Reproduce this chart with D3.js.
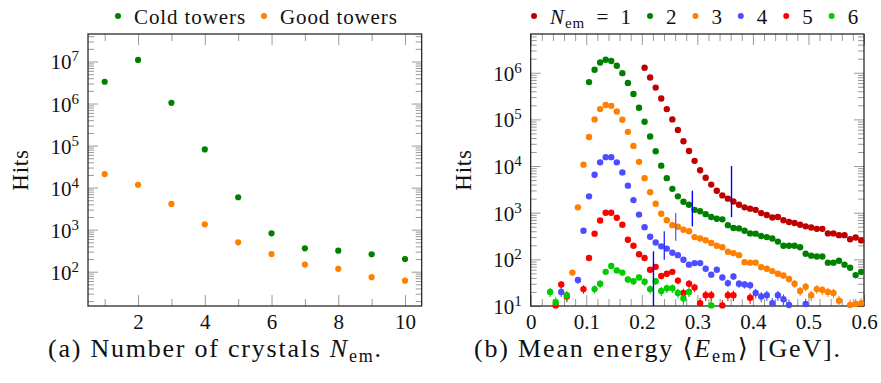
<!DOCTYPE html>
<html>
<head>
<meta charset="utf-8">
<script src="https://cdn.jsdelivr.net/npm/d3@7"></script>
<style>
  body { margin: 0; background: #fff; }
</style>
</head>
<body>
<svg id="chart" width="881" height="383" font-family="Liberation Serif, DejaVu Serif, serif"></svg>
<script>
// (a) hits vs number of crystals
const crystalCounts = [1, 2, 3, 4, 5, 6, 7, 8, 9, 10];
const coldTowers = [3.3e6, 1.09e7, 1.04e6, 8.1e4, 5900, 820, 360, 316, 260, 200];
const goodTowers = [2.1e4, 1.17e4, 4100, 1340, 500, 263, 148, 117, 74, 61];
const crystalTickLabels = [2, 4, 6, 8, 10];

// (b) hits vs mean energy [GeV], one array per N_em
const energyBins = [0.035, 0.045, 0.055, 0.065, 0.075, 0.085, 0.095, 0.105, 0.115, 0.125,
  0.135, 0.145, 0.155, 0.165, 0.175, 0.185, 0.195, 0.205, 0.215, 0.225,
  0.235, 0.245, 0.255, 0.265, 0.275, 0.285, 0.295, 0.305, 0.315, 0.325,
  0.335, 0.345, 0.355, 0.365, 0.375, 0.385, 0.395, 0.405, 0.415, 0.425,
  0.435, 0.445, 0.455, 0.465, 0.475, 0.485, 0.495, 0.505, 0.515, 0.525,
  0.535, 0.545, 0.555, 0.565, 0.575, 0.585, 0.595];
const hitsNem1 = [null, null, null, null, null, null, null, null, null, null,
  null, null, null, null, null, null, null, 1.28e6, 7.9e5, 4.8e5,
  2.8e5, 1.66e5, 1.0e5, 5.9e4, 3.4e4, 2.1e4, 1.29e4, 8100, 5600, 4000,
  2950, 2350, 2000, 1740, 1480, 1300, 1220, 1150, 980, 890,
  790, 810, 690, 630, 600, 550, 510, 480, 450, 450,
  360, 360, 330, 330, 270, 295, 255];
const hitsNem2 = [null, null, null, null, null, null, null, 6.3e5, 1.16e6, 1.66e6,
  1.9e6, 1.78e6, 1.41e6, 9.8e5, 6.0e5, 3.5e5, 1.78e5, 8.9e4, 4.3e4, 2.07e4,
  1.02e4, 5500, 3240, 2240, 1720, 1480, 1150, 1070, 930, 810,
  740, 720, 540, 470, 460, 410, 360, 355, 316, 300,
  280, 240, 195, 195, 195, 182, 132, 120, 115, 115,
  85, 85, 93, 77, 66, 46, 54];
const hitsNem3 = [null, null, null, null, 52, 1300, 1.07e4, 4.2e4, 1.0e5, 1.66e5,
  2.04e5, 1.95e5, 1.48e5, 9.8e4, 5.4e4, 2.7e4, 1.23e4, 5500, 2750, 1550,
  950, 690, 540, 500, 430, 400, 300, 280, 257, 224,
  195, 182, 145, 135, 123, 87, 85, 85, 68, 63,
  56, 49, 45, 38, 30, 21, 26, 17, 23, 22,
  20, 19, 13, null, 10.5, 11, 11.5];
const hitsNem4 = [null, null, 20, null, null, 36, 410, 2240, 6500, 1.2e4,
  1.55e4, 1.55e4, 1.2e4, 7300, 3800, 1860, 910, 490, 305, 230,
  190, 170, 138, 123, 98, 77, 83, 83, 63, 47,
  60, 41, 31, 43, 30, 29, 28, 19, 16, 17,
  11.5, 17, 14, 10.5, null, null, 11, null, null, null,
  null, null, null, null, null, null, null];
const hitsNem5 = [null, 10.3, 29, 16, null, null, 23, 107, 355, 680,
  1000, 1000, 780, 550, 263, 195, 129, 107, 60, 69,
  44, 49, 54, 35, 19, 30, 25, 11.5, 17, 17,
  null, 10.3, 17, 17, null, null, 15, null, null, null,
  null, null, null, null, null, null, null, null, null, null,
  null, null, null, null, null, null, null];
const hitsNem6 = [20, 12, null, 17, null, null, null, null, 23, 30,
  54, 72, 58, 52, 37, 34, 41, 33, 23, 34,
  21, 24, 24, 19, 14.5, 20, null, null, null, 10.3,
  null, null, null, null, null, null, null, null, null, null,
  null, null, null, null, null, null, null, null, null, null,
  null, null, null, null, null, null, null];
const nemLabels = ["1", "2", "3", "4", "5", "6"];
const nemColors = ["#bf0000", "#008000", "#ff8000", "#4d4dff", "#ff0000", "#00cc00"];

// blue vertical markers in (b)
const markerEnergy = [0.221, 0.2405, 0.261, 0.291, 0.3615];
const markerLow = [10, 98, 250, 510, 800];
const markerHigh = [148, 400, 980, 2950, 10000];
const markerColors = ["#0000ff", "#3333ff", "#6666ff", "#0000ff", "#0000ff"];

const energyTickLabels = [0, 0.1, 0.2, 0.3, 0.4, 0.5, 0.6];

const SERIF = "'Liberation Serif', 'DejaVu Serif', 'Times New Roman', serif";
const svg = d3.select("#chart");
const FS = 21;
const tickColor = "#9a9a9a";

const plotTop = 34, plotBottom = 306;
const panelA = { left: 88, right: 421.7 };
const panelB = { left: 530.7, right: 864 };

const xA = d3.scaleLinear().domain([0.5, 10.5]).range([panelA.left, panelA.right]);
const yA = d3.scaleLog().domain([Math.pow(10, 1.184), Math.pow(10, 7.654)]).range([plotBottom, plotTop]);
const xB = d3.scaleLinear().domain([0, 0.6]).range([panelB.left, panelB.right]);
const yB = d3.scaleLog().domain([10, Math.pow(10, 6.83)]).range([plotBottom, plotTop]);

function logTicks(scale) {
  const [lo, hi] = scale.domain();
  const major = [], minor = [];
  for (let k = Math.floor(Math.log10(lo)); k <= Math.ceil(Math.log10(hi)); k++) {
    for (let m = 1; m <= 9; m++) {
      const v = m * Math.pow(10, k);
      if (v < lo * 0.999 || v > hi * 1.001) continue;
      (m === 1 ? major : minor).push(v);
    }
  }
  return { major, minor };
}

function tickAxis(g, axis) {
  g.call(axis).attr("color", tickColor);
  g.select(".domain").remove();
  g.selectAll("text").remove();
  g.selectAll("line").attr("stroke-width", 1);
}

function drawFrame(x, y, xMajor, xMinor) {
  const lt = logTicks(y);
  const [x0, x1] = x.range();
  [[xMajor, 11], [xMinor, 7]].forEach(([vals, len]) => {
    tickAxis(svg.append("g").attr("transform", `translate(0,${plotBottom})`),
      d3.axisBottom(x).tickValues(vals).tickSize(-len));
    tickAxis(svg.append("g").attr("transform", `translate(0,${plotTop})`),
      d3.axisTop(x).tickValues(vals).tickSize(-len));
  });
  [[lt.major, 10], [lt.minor, 6]].forEach(([vals, len]) => {
    tickAxis(svg.append("g").attr("transform", `translate(${x0},0)`),
      d3.axisLeft(y).tickValues(vals).tickSize(-len));
    tickAxis(svg.append("g").attr("transform", `translate(${x1},0)`),
      d3.axisRight(y).tickValues(vals).tickSize(-len));
  });

  // y labels 10^k
  const yl = svg.append("g").attr("transform", `translate(${x0 - 9},0)`)
    .call(d3.axisLeft(y).tickValues(lt.major).tickSize(0).tickFormat(""));
  yl.select(".domain").remove();
  yl.selectAll(".tick text").remove();
  yl.selectAll(".tick").append("text")
    .attr("text-anchor", "end")
    .attr("y", 7.5)
    .style("font-size", FS + "px")
    .each(function(d) {
      const t = d3.select(this);
      t.append("tspan").text("10");
      t.append("tspan").attr("dy", -8).style("font-size", "15px").text(Math.round(Math.log10(d)));
    });

  svg.append("text")
    .attr("transform", `translate(${x0 - 60},${(plotTop + plotBottom) / 2}) rotate(-90)`)
    .attr("text-anchor", "middle")
    .style("font-size", "23px")
    .style("letter-spacing", "0.8px")
    .text("Hits");

  svg.append("rect")
    .attr("x", x0).attr("y", plotTop)
    .attr("width", x1 - x0).attr("height", plotBottom - plotTop)
    .attr("fill", "none").attr("stroke", "#1a1a1a").attr("stroke-width", 1.2);
}

// ---------- panel (a)
drawFrame(xA, yA, crystalTickLabels, crystalCounts.filter(c => !crystalTickLabels.includes(c)));

const xla = svg.append("g").attr("transform", `translate(0,${plotBottom})`)
  .call(d3.axisBottom(xA).tickValues(crystalTickLabels).tickSize(0).tickPadding(0));
xla.select(".domain").remove();
xla.attr("font-size", null).attr("font-family", null);
xla.selectAll("text").attr("dy", null).attr("y", 23).style("font-size", FS + "px");

const seriesA = [
  { name: "Cold towers", values: coldTowers, color: "#008000" },
  { name: "Good towers", values: goodTowers, color: "#ff8000" }
];
seriesA.forEach(s => {
  svg.append("g").selectAll("circle")
    .data(crystalCounts.map((c, i) => ({ c, v: s.values[i] })))
    .join("circle")
    .attr("cx", d => xA(d.c))
    .attr("cy", d => yA(d.v))
    .attr("r", 3.1)
    .attr("fill", s.color);
});

// ---------- panel (b)
drawFrame(xB, yB, energyTickLabels, [0.02, 0.04, 0.06, 0.08, 0.12, 0.14, 0.16, 0.18, 0.22, 0.24, 0.26, 0.28,
  0.32, 0.34, 0.36, 0.38, 0.42, 0.44, 0.46, 0.48, 0.52, 0.54, 0.56, 0.58]);

const xlb = svg.append("g").attr("transform", `translate(0,${plotBottom})`)
  .call(d3.axisBottom(xB).tickValues(energyTickLabels).tickSize(0).tickPadding(0)
    .tickFormat(d => d === 0 ? "0" : d3.format(".1f")(d)));
xlb.select(".domain").remove();
xlb.attr("font-size", null).attr("font-family", null);
xlb.selectAll("text").attr("dy", null).attr("y", 23).style("font-size", FS + "px");

svg.append("clipPath").attr("id", "clipB").append("rect")
  .attr("x", panelB.left).attr("y", plotTop)
  .attr("width", panelB.right - panelB.left).attr("height", plotBottom - plotTop);

const seriesB = [hitsNem1, hitsNem2, hitsNem3, hitsNem4, hitsNem5, hitsNem6];
seriesB.forEach((vals, si) => {
  const pts = energyBins.map((e, i) => ({ e, v: vals[i] })).filter(d => d.v !== null);
  const g = svg.append("g");
  g.append("g").attr("clip-path", "url(#clipB)")
    .selectAll("line")
    .data(pts)
    .join("line")
    .attr("x1", d => xB(d.e)).attr("x2", d => xB(d.e))
    .attr("y1", d => yB(d.v + Math.sqrt(d.v)))
    .attr("y2", d => yB(Math.max(d.v - Math.sqrt(d.v), 1)))
    .attr("stroke", nemColors[si])
    .attr("stroke-width", 1.1);
  g.selectAll("circle")
    .data(pts)
    .join("circle")
    .attr("cx", d => xB(d.e))
    .attr("cy", d => yB(d.v))
    .attr("r", 3.2)
    .attr("fill", nemColors[si]);
});

svg.append("g").selectAll("line")
  .data(markerEnergy.map((e, i) => ({ e, lo: markerLow[i], hi: markerHigh[i], c: markerColors[i] })))
  .join("line")
  .attr("x1", d => xB(d.e)).attr("x2", d => xB(d.e))
  .attr("y1", d => yB(d.hi)).attr("y2", d => yB(d.lo))
  .attr("stroke", d => d.c)
  .attr("stroke-width", 1.4);

// ---------- legends
function legend(items, startX) {
  const g = svg.append("g");
  let x = startX;
  items.forEach(it => {
    g.append("circle").attr("cx", x).attr("cy", 16).attr("r", 3).attr("fill", it.color);
    const t = g.append("text").attr("x", x + 16).attr("y", 24)
      .style("font-family", SERIF)
      .style("font-size", FS + "px").style("letter-spacing", "0.9px");
    it.build(t);
    x += 16 + t.node().getComputedTextLength() + 18;
  });
}

legend(seriesA.map(s => ({ color: s.color, build: t => t.text(s.name) })), 118);

legend(nemLabels.map((lab, i) => ({
  color: nemColors[i],
  build: t => {
    if (i === 0) {
      t.append("tspan").style("font-style", "italic").text("N");
      t.append("tspan").attr("dy", 4).style("font-size", "15px").text("em");
      t.append("tspan").attr("dy", -4).text("\u2002=\u20021");
    } else {
      t.text(lab);
    }
  }
})), 534);

// ---------- captions
function caption(cx, width, build) {
  const t = svg.append("text").attr("x", cx).attr("y", 357)
    .attr("text-anchor", "middle")
    .attr("textLength", width).attr("lengthAdjust", "spacing")
    .style("font-size", "26px");
  build(t);
}

caption(214.5, 333, t => {
  t.append("tspan").text("(a) Number of crystals ");
  t.append("tspan").style("font-style", "italic").text("N");
  t.append("tspan").attr("dy", 5).style("font-size", "18px").text("em");
  t.append("tspan").attr("dy", -5).text(".");
});

caption(657, 366, t => {
  t.append("tspan").text("(b) Mean energy \u27E8");
  t.append("tspan").style("font-style", "italic").text("E");
  t.append("tspan").attr("dy", 5).style("font-size", "18px").text("em");
  t.append("tspan").attr("dy", -5).text("\u27E9 [GeV].");
});

svg.selectAll("text").style("font-family", SERIF).style("fill", "#111");
</script>
</body>
</html>
